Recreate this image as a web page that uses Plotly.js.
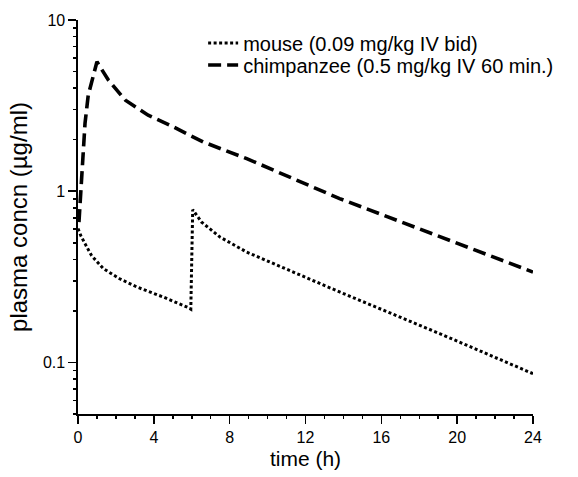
<!DOCTYPE html>
<html>
<head>
<meta charset="utf-8">
<script src="https://cdn.plot.ly/plotly-3.0.1.min.js"></script>
<style>html,body{margin:0;padding:0;background:#fff;}#chart{width:578px;height:477px;}</style>
</head>
<body>
<div id="chart"></div>
<script>
// Mouse (0.09 mg/kg IV bid)
const mouseTime = [0, 0.15, 0.37, 0.72, 1.34, 2.2, 3.1, 4.5, 5.82, 5.95, 6.05, 6.52, 7.49, 8.9, 13.8, 19.1, 24];
const mouseConc = [0.605, 0.55, 0.494, 0.42, 0.353, 0.308, 0.276, 0.241, 0.209, 0.205, 0.78, 0.66, 0.54, 0.441, 0.258, 0.147, 0.086];
// Chimpanzee (0.5 mg/kg IV 60 min.)
const chimpTime = [0.05, 0.15, 0.23, 0.37, 0.54, 0.81, 1.0, 1.6, 2.5, 3.7, 4.85, 6.6, 8.9, 13.8, 19.1, 24];
const chimpConc = [0.66, 1.0, 1.45, 2.49, 3.64, 4.87, 5.7, 4.46, 3.40, 2.78, 2.43, 1.94, 1.55, 0.906, 0.541, 0.337];

const seriesNames = ['mouse (0.09 mg/kg IV bid)', 'chimpanzee (0.5 mg/kg IV 60 min.)'];
const xTickVals = [0, 4, 8, 12, 16, 20, 24];
const yTickVals = [0.1, 1, 10];
const yTickText = ['0.1', '1', '10'];

const font = 'Arial, "Liberation Sans", Helvetica, sans-serif';

const yMinor = [];
[0.01, 0.1, 1].forEach(d => { for (let k = 2; k <= 9; k++) { const v = +(d * k).toFixed(3); if (v >= 0.05 && v <= 10) yMinor.push(v); } });
const xMinor = [];
for (let i = 0; i <= 24; i++) if (i % 4 !== 0) xMinor.push(i);

const traces = [
  {x: mouseTime, y: mouseConc, name: seriesNames[0], mode: 'lines', legend: 'legend',
   line: {color: '#000', width: 3, dash: '3px,2.5px'}},
  {x: chimpTime, y: chimpConc, name: seriesNames[1], mode: 'lines', legend: 'legend2',
   line: {color: '#000', width: 3.6, dash: '13px,6px'}},
  // carrier for the minor-tick overlay axes (draws nothing)
  {x: [mouseTime[0]], y: [mouseConc[0]], xaxis: 'x2', yaxis: 'y2', mode: 'none', showlegend: false, hoverinfo: 'skip'}
];

const legendCommon = {
  bgcolor: 'rgba(0,0,0,0)', borderwidth: 0,
  font: {family: font, size: 20, color: '#000'},
  xanchor: 'left', yanchor: 'middle', itemwidth: 30, tracegroupgap: 0
};

const layout = {
  width: 578, height: 477,
  margin: {l: 78, r: 45, t: 20, b: 63},
  paper_bgcolor: '#fff', plot_bgcolor: '#fff',
  showlegend: true,
  legend: Object.assign({}, legendCommon, {x: 0.275, y: 1 - (43 - 20) / 394}),
  legend2: Object.assign({}, legendCommon, {x: 0.275, y: 1 - (65 - 20) / 394}),
  xaxis: {
    range: [0, 24], tickmode: 'array', tickvals: xTickVals,
    ticks: 'outside', ticklen: 8, tickwidth: 1.6, tickcolor: '#000',
    showline: true, linecolor: '#000', linewidth: 1.6, showgrid: false, zeroline: false,
    tickfont: {family: font, size: 16, color: '#000'},
    title: {text: 'time (h)', font: {family: font, size: 21, color: '#000'}, standoff: 6}
  },
  yaxis: {
    type: 'log', range: [Math.log10(0.05), 1], tickmode: 'array', tickvals: yTickVals, ticktext: yTickText,
    ticks: 'outside', ticklen: 8, tickwidth: 1.6, tickcolor: '#000',
    showline: true, linecolor: '#000', linewidth: 1.6, showgrid: false, zeroline: false,
    tickfont: {family: font, size: 16, color: '#000'},
    title: {text: 'plasma concn (µg/ml)', font: {family: font, size: 24, color: '#000'}, standoff: 8}
  },
  xaxis2: {
    overlaying: 'x', anchor: 'y', side: 'bottom', range: [0, 24],
    tickmode: 'array', tickvals: xMinor, ticktext: xMinor.map(() => ''),
    ticks: 'outside', ticklen: 4, tickwidth: 1.5, tickcolor: '#000',
    showline: false, showgrid: false, zeroline: false
  },
  yaxis2: {
    overlaying: 'y', anchor: 'x', side: 'left', type: 'log', range: [Math.log10(0.05), 1],
    tickmode: 'array', tickvals: yMinor, ticktext: yMinor.map(() => ''),
    ticks: 'outside', ticklen: 4, tickwidth: 1.5, tickcolor: '#000',
    showline: false, showgrid: false, zeroline: false
  }
};

Plotly.newPlot('chart', traces, layout, {displayModeBar: false, staticPlot: true});
</script>
</body>
</html>
